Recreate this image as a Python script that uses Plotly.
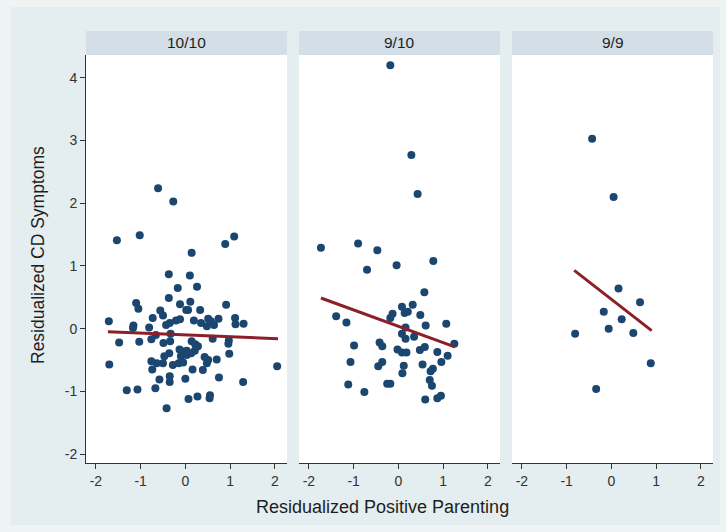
import plotly.graph_objects as go

panels = ["10/10", "9/10", "9/9"]

# Panel 1 (10/10)
x1 = [-0.61, -0.27, -1.53, -1.02, 0.89, 1.09, 0.14, -0.37, 0.10, -0.17, 0.26, -0.37, -1.10, -1.05,
      -0.12, 0.11, 0.02, 0.06, 0.33, 0.91, -0.56, -0.50, -0.73, -1.71, -1.16, -1.17, -0.81, -0.43,
      -0.35, -0.21, -0.12, 0.19, 0.35, 0.51, 0.57, 0.64, 0.74, 0.48, 1.11, 1.12, 1.30, -1.48, -1.03,
      -0.76, -0.66, -0.49, -0.34, -0.33, 0.14, 0.22, 0.28, 0.61, 0.96, 0.97, -0.13, -0.08, 0.03,
      0.21, -0.36, -0.47, -0.10, 0.03, 0.13, 0.43, 0.98, -1.70, 2.05, -0.76, -0.64, -0.50, -0.28,
      -0.15, -0.05, 0.48, 0.51, 0.70, -0.74, 0.16, 0.39, -0.58, -0.35, -0.35, 0.00, 0.75, 1.29,
      -1.31, -1.07, -0.67, 0.07, 0.27, 0.55, 0.54, -0.42]
y1 = [2.24, 2.03, 1.41, 1.49, 1.35, 1.47, 1.21, 0.87, 0.85, 0.65, 0.67, 0.49, 0.41, 0.32,
      0.39, 0.43, 0.30, 0.30, 0.30, 0.38, 0.29, 0.21, 0.17, 0.12, 0.05, 0.01, 0.02, 0.06,
      0.09, 0.13, 0.15, 0.13, 0.09, 0.16, 0.12, 0.06, 0.16, 0.04, 0.17, 0.07, 0.08, -0.22, -0.21,
      -0.17, -0.10, -0.23, -0.20, -0.08, -0.20, -0.25, -0.28, -0.16, -0.24, -0.19, -0.33, -0.36, -0.35,
      -0.35, -0.39, -0.44, -0.44, -0.42, -0.39, -0.45, -0.40, -0.57, -0.60, -0.52, -0.55, -0.55, -0.58,
      -0.55, -0.54, -0.55, -0.50, -0.49, -0.65, -0.65, -0.66, -0.81, -0.76, -0.85, -0.80, -0.78, -0.85,
      -0.98, -0.97, -0.95, -1.12, -1.08, -1.06, -1.11, -1.27]
fit1_x = [-1.73, 2.07]
fit1_y = [-0.05, -0.16]

# Panel 2 (9/10)
x2 = [-0.18, 0.29, 0.43, -1.73, -0.90, -0.47, -0.70, -0.04, 0.78, 0.58, -1.39, -1.16, 0.08, 0.32,
      0.14, 0.21, -0.13, -0.18, 0.49, 0.61, 1.07, 0.16, 0.08, 0.16, 0.35, -0.99, -0.42, -0.36,
      -0.02, 0.08, 0.18, 0.48, 0.59, 0.87, 1.25, 1.10, 0.96, -1.07, -0.45, -0.36, 0.12, 0.54,
      0.72, 0.77, 0.09, -1.12, -0.76, -0.25, -0.18, 0.70, 0.75, 0.60, 0.87, 0.95]
y2 = [4.20, 2.77, 2.15, 1.29, 1.36, 1.25, 0.94, 1.01, 1.08, 0.58, 0.20, 0.10, 0.35, 0.38,
      0.25, 0.27, 0.24, 0.17, 0.22, 0.05, 0.08, 0.02, -0.08, -0.16, -0.13, -0.27, -0.22, -0.28,
      -0.33, -0.38, -0.38, -0.34, -0.29, -0.37, -0.24, -0.43, -0.53, -0.53, -0.60, -0.53, -0.59, -0.57,
      -0.68, -0.64, -0.71, -0.89, -1.01, -0.88, -0.88, -0.82, -0.91, -1.13, -1.11, -1.07]
fit2_x = [-1.73, 1.26]
fit2_y = [0.49, -0.29]

# Panel 3 (9/9)
x3 = [-0.43, 0.05, 0.16, 0.64, -0.17, 0.23, -0.06, 0.49, -0.81, 0.88, -0.34]
y3 = [3.03, 2.10, 0.64, 0.42, 0.27, 0.15, 0.00, -0.07, -0.08, -0.55, -0.96]
fit3_x = [-0.83, 0.90]
fit3_y = [0.93, -0.03]

x_ticks = [-2, -1, 0, 1, 2]
y_ticks = [-2, -1, 0, 1, 2, 3, 4]

DOT = "#1b4670"
LINE = "#8c1f28"
BG = "#e4edef"
EDGE = "#eef3f4"
HEAD = "#d4dee6"
TXT = "#333333"
FONT = "Liberation Sans, Arial, sans-serif"
TICKFONT = "Liberation Sans Narrow, Arial Narrow, Liberation Sans, Arial, sans-serif"

fig = go.Figure()
data = [(x1, y1, fit1_x, fit1_y), (x2, y2, fit2_x, fit2_y), (x3, y3, fit3_x, fit3_y)]
for i, (xs, ys, fx, fy) in enumerate(data):
    sfx = "" if i == 0 else str(i + 1)
    fig.add_trace(go.Scatter(x=xs, y=ys, mode="markers",
                             marker=dict(color=DOT, size=8, line=dict(width=0)),
                             xaxis="x" + sfx, yaxis="y" + sfx, showlegend=False))
    fig.add_trace(go.Scatter(x=fx, y=fy, mode="lines",
                             line=dict(color=LINE, width=3),
                             xaxis="x" + sfx, yaxis="y" + sfx, showlegend=False))

W, H = 726, 532
xdoms = [(86, 287), (299, 500), (512, 713)]
ydom = [(H - 463) / H, (H - 55) / H]
head_top = (H - 31) / H

layout = dict(
    width=W, height=H,
    margin=dict(l=0, r=0, t=0, b=0),
    paper_bgcolor=BG,
    plot_bgcolor="white",
    font=dict(family=FONT, color=TXT, size=14),
    shapes=[],
    annotations=[],
    hovermode=False,
)
# lighter outer edges of the frame
for (x0, x1_, y0, y1_) in [(0, 11, 0, H), (720, W, 0, H), (0, W, 0, 7), (0, W, 525, H)]:
    layout["shapes"].append(dict(type="rect", xref="paper", yref="paper",
                                 x0=x0 / W, x1=x1_ / W, y0=(H - y1_) / H, y1=(H - y0) / H,
                                 fillcolor=EDGE, line=dict(width=0), layer="above"))

for i, (a, b) in enumerate(xdoms):
    sfx = "" if i == 0 else str(i + 1)
    xa = dict(domain=[a / W, b / W], range=[-2.22, 2.27], anchor="y" + sfx,
              tickvals=x_ticks, ticktext=[str(v) for v in x_ticks],
              ticks="outside", ticklen=5, tickwidth=1, tickcolor=TXT,
              showline=True, linecolor=TXT, linewidth=1, showgrid=False, zeroline=False,
              tickfont=dict(size=14, color=TXT, family=TICKFONT), fixedrange=True)
    ya = dict(domain=ydom, range=[-2.142, 4.365], anchor="x" + sfx,
              tickvals=y_ticks, ticktext=[str(v) for v in y_ticks],
              showgrid=False, zeroline=False, fixedrange=True,
              tickfont=dict(size=14, color=TXT, family=TICKFONT))
    if i == 0:
        ya.update(ticks="outside", ticklen=5, tickwidth=1, tickcolor=TXT,
                  showline=True, linecolor=TXT, linewidth=1, showticklabels=True)
    else:
        ya.update(showline=False, showticklabels=False, ticks="")
    layout["xaxis" + sfx] = xa
    layout["yaxis" + sfx] = ya
    # header strip
    layout["shapes"].append(dict(type="rect", xref="paper", yref="paper",
                                 x0=a / W, x1=b / W, y0=ydom[1], y1=head_top,
                                 fillcolor=HEAD, line=dict(width=0)))
    layout["annotations"].append(dict(text=panels[i], xref="paper", yref="paper",
                                      x=(a + b) / 2 / W, y=(ydom[1] + head_top) / 2,
                                      showarrow=False, xanchor="center", yanchor="middle",
                                      font=dict(size=15.5, color="#1e1e1e", family=FONT)))

layout["annotations"].append(dict(text="Residualized Positive Parenting", xref="paper", yref="paper",
                                  x=383 / W, y=(H - 507) / H, showarrow=False,
                                  xanchor="center", yanchor="middle",
                                  font=dict(size=18, color="#1e1e1e", family=FONT)))
layout["annotations"].append(dict(text="Residualized CD Symptoms", xref="paper", yref="paper",
                                  x=38 / W, y=(H - 255) / H, showarrow=False, textangle=-90,
                                  xanchor="center", yanchor="middle",
                                  font=dict(size=17.5, color="#1e1e1e", family=FONT)))

fig.update_layout(**layout)
fig.write_html("out.html", config={"displayModeBar": False, "staticPlot": True},
               post_script="document.body.style.margin='0';document.body.style.padding='0';")
